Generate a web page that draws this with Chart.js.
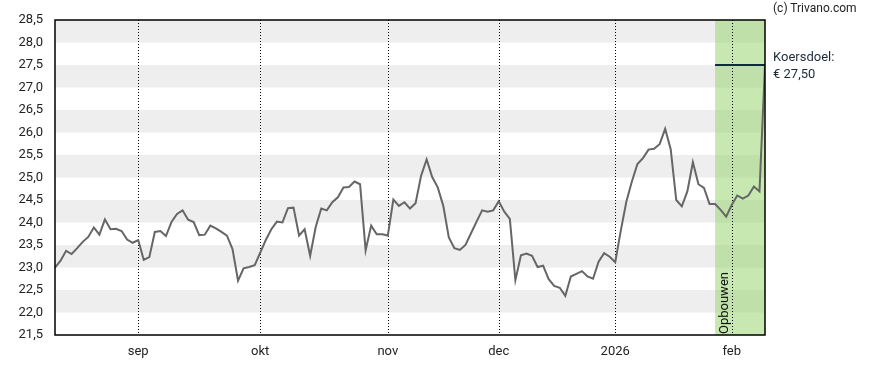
<!DOCTYPE html>
<html>
<head>
<meta charset="utf-8">
<script src="https://cdn.jsdelivr.net/npm/chart.js@4/dist/chart.umd.min.js"></script>
<style>
  html, body { margin: 0; padding: 0; background: #fff; }
  #wrap { position: relative; width: 888px; height: 370px; font-family: Roboto, "Noto Sans", sans-serif; color: #222; }
  #wrap canvas { position: absolute; left: 0; top: 0; }
  .note { position: absolute; font-size: 12px; line-height: 16px; white-space: nowrap; }
  #copy { left: 773px; top: 0px; }
  #target { left: 773px; top: 48px; font-size: 13px; line-height: 17px; color: #1b2a3a; }
  #zone { left: 724px; top: 334px; font-size: 13px; color: #111; transform-origin: 0 0; transform: rotate(-90deg) translate(0, -8px); }
</style>
</head>
<body>
<div id="wrap">
  <canvas id="koersChart" width="888" height="370"></canvas>
  <div class="note" id="copy">(c) Trivano.com</div>
  <div class="note" id="target">Koersdoel:<br>€ 27,50</div>
  <div class="note" id="zone">Opbouwen</div>
</div>
<script>
// closing prices per trading day, from 11 aug 2025 onward (last point = koersdoel)
const prices = [
  23.00, 23.15, 23.37, 23.30, 23.43, 23.57, 23.68, 23.89, 23.73, 24.07,
  23.85, 23.86, 23.81, 23.62, 23.55, 23.61, 23.17, 23.23, 23.79, 23.81,
  23.70, 24.01, 24.19, 24.27, 24.06, 24.01, 23.72, 23.73, 23.93, 23.87,
  23.79, 23.71, 23.41, 22.71, 22.98, 23.01, 23.05, 23.33, 23.61, 23.85,
  24.02, 24.00, 24.32, 24.33, 23.71, 23.85, 23.26, 23.90, 24.31, 24.27,
  24.45, 24.56, 24.78, 24.79, 24.91, 24.85, 23.38, 23.93, 23.74, 23.74,
  23.71, 24.51, 24.37, 24.45, 24.31, 24.43, 25.04, 25.40, 25.01, 24.78,
  24.37, 23.67, 23.43, 23.39, 23.50, 23.76, 24.02, 24.27, 24.24, 24.27,
  24.47, 24.24, 24.08, 22.72, 23.27, 23.31, 23.26, 23.01, 23.04, 22.74,
  22.59, 22.55, 22.37, 22.80, 22.86, 22.92, 22.80, 22.75, 23.13, 23.32,
  23.24, 23.12, 23.82, 24.46, 24.91, 25.30, 25.43, 25.62, 25.64, 25.74,
  26.08, 25.63, 24.50, 24.36, 24.69, 25.34, 24.85, 24.77, 24.41, 24.41,
  24.28, 24.13, 24.39, 24.60, 24.53, 24.60, 24.80, 24.69, 27.50
];

// month starts (trading day index) and their labels
const monthIdx = [15, 37, 60, 80, 101, 122];
const monthLabels = ['sep', 'okt', 'nov', 'dec', '2026', 'feb'];

const targetPrice = 27.5;
const zoneStart = 119; // start "Opbouwen" zone
const yMin = 21.5, yMax = 28.5;

const fmt = v => v.toFixed(1).replace('.', ',');

const backdrop = {
  id: 'backdrop',
  beforeDatasetsDraw(chart) {
    const { ctx, chartArea: a, scales: { x, y } } = chart;
    ctx.save();
    // grey bands
    ctx.fillStyle = '#eeeeee';
    for (let k = Math.ceil(yMin); k < yMax; k++) {
      const top = y.getPixelForValue(k + 0.5), bot = y.getPixelForValue(k);
      ctx.fillRect(a.left, top, a.right - a.left, bot - top);
    }
    // advice zone
    const zx = x.getPixelForValue(zoneStart);
    ctx.fillStyle = 'rgba(144, 212, 100, 0.5)';
    ctx.fillRect(zx, a.top, a.right - zx, a.bottom - a.top);
    // dotted month lines
    ctx.strokeStyle = '#000';
    ctx.lineWidth = 1;
    ctx.setLineDash([1, 2]);
    monthIdx.forEach(m => {
      const px = Math.round(x.getPixelForValue(m)) + 0.5;
      ctx.beginPath();
      ctx.moveTo(px, a.top);
      ctx.lineTo(px, a.bottom);
      ctx.stroke();
    });
    ctx.restore();
  },
  afterDatasetsDraw(chart) {
    const { ctx, chartArea: a, scales: { x, y } } = chart;
    ctx.save();
    // koersdoel line
    const ty = y.getPixelForValue(targetPrice);
    ctx.strokeStyle = '#0d2b45';
    ctx.lineWidth = 2;
    ctx.beginPath();
    ctx.moveTo(x.getPixelForValue(zoneStart), ty);
    ctx.lineTo(a.right, ty);
    ctx.stroke();
    // frame
    ctx.strokeStyle = '#000';
    ctx.lineWidth = 1.5;
    ctx.strokeRect(a.left, a.top, a.right - a.left, a.bottom - a.top);
    ctx.restore();
  }
};

new Chart(document.getElementById('koersChart'), {
  type: 'line',
  data: {
    datasets: [{
      data: prices.map((p, i) => ({ x: i, y: p })),
      borderColor: '#666666',
      borderWidth: 2,
      pointRadius: 0,
      tension: 0,
      fill: false
    }]
  },
  options: {
    responsive: false,
    animation: false,
    layout: { padding: { top: 20, right: 123, left: 0, bottom: 0 } },
    plugins: { legend: { display: false }, tooltip: { enabled: false } },
    scales: {
      x: {
        type: 'linear',
        min: 0,
        max: prices.length - 1,
        afterBuildTicks: s => { s.ticks = monthIdx.map(v => ({ value: v })); },
        afterFit: s => { s.height = 35; },
        grid: { display: false },
        border: { display: false },
        ticks: {
          autoSkip: false,
          maxRotation: 0,
          padding: 1,
          color: '#222',
          font: { family: 'Roboto', size: 13 },
          callback: v => monthLabels[monthIdx.indexOf(v)]
        }
      },
      y: {
        min: yMin,
        max: yMax,
        afterFit: s => { s.width = 55; },
        grid: { display: false },
        border: { display: false },
        ticks: {
          stepSize: 0.5,
          padding: 4,
          color: '#222',
          font: { family: 'Roboto', size: 13 },
          callback: v => fmt(v)
        }
      }
    }
  },
  plugins: [backdrop]
});
</script>
</body>
</html>
